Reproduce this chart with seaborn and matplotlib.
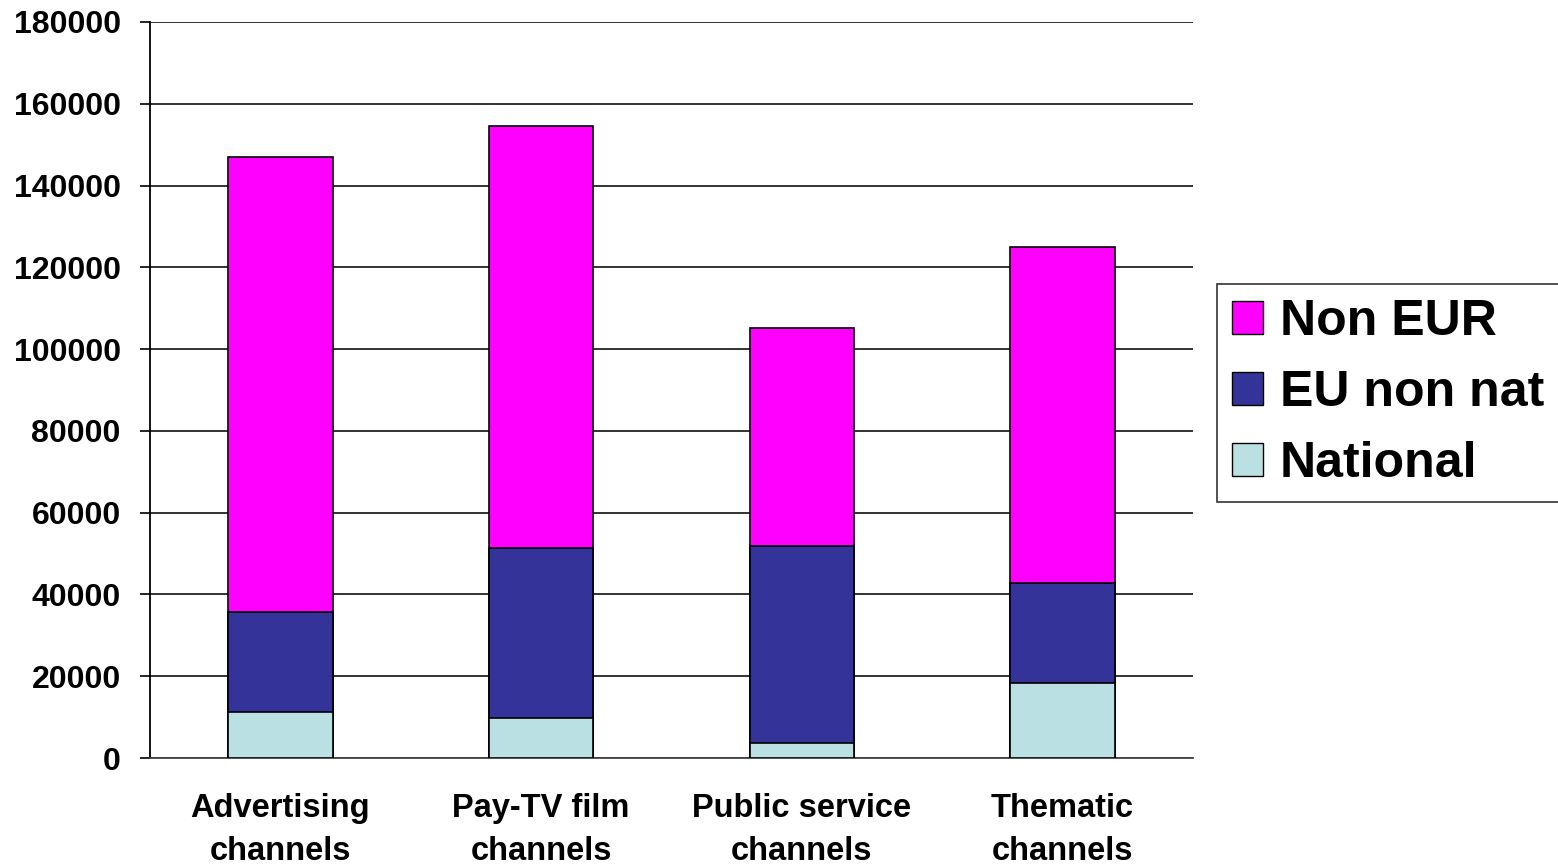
import matplotlib
matplotlib.use("Agg")
import matplotlib.pyplot as plt
import seaborn as sns
import pandas as pd
import numpy as np
from matplotlib.patches import Patch

# Programme hours by origin and channel type
categories = ["Advertising\nchannels", "Pay-TV film\nchannels",
              "Public service\nchannels", "Thematic\nchannels"]
national = [11200, 9800, 3600, 18300]
eu_non_nat = [24400, 41600, 48300, 24500]
non_eur = [111300, 103100, 53300, 82200]

series_names = ["Non EUR", "EU non nat", "National"]
series_colors = {"Non EUR": "#FF00FF", "EU non nat": "#333399", "National": "#BBE0E3"}
y_ticks = [0, 20000, 40000, 60000, 80000, 100000, 120000, 140000, 160000, 180000]

df = pd.DataFrame({"category": categories, "National": national,
                   "EU non nat": eu_non_nat, "Non EUR": non_eur})
# cumulative tops for stacking
df["top_national"] = df["National"]
df["top_eu"] = df["top_national"] + df["EU non nat"]
df["top_non_eur"] = df["top_eu"] + df["Non EUR"]

sns.set_theme(style="white")
plt.rcParams["font.family"] = ["Liberation Sans", "DejaVu Sans"]
plt.rcParams["text.color"] = "black"
plt.rcParams["xtick.color"] = "black"
plt.rcParams["ytick.color"] = "black"

fig = plt.figure(figsize=(15.58, 8.65), dpi=100)
ax = fig.add_axes([150 / 1558, 1 - 758 / 865, (1193 - 150) / 1558, (758 - 22) / 865])

for col, name in [("top_non_eur", "Non EUR"), ("top_eu", "EU non nat"),
                  ("top_national", "National")]:
    sns.barplot(data=df, x="category", y=col, color=series_colors[name],
                saturation=1, width=0.4, edgecolor="black", linewidth=1.2,
                ax=ax, zorder=3)

ax.set_ylim(0, 180000)
ax.set_xlim(-0.5, len(categories) - 0.5)
ax.set_yticks(y_ticks)
ax.set_yticklabels([str(v) for v in y_ticks], fontsize=23, fontweight="bold")
ax.yaxis.grid(True, color="#222222", linewidth=1.3, zorder=0)
ax.set_axisbelow(True)
ax.set_xlabel("")
ax.set_ylabel("")

ax.set_xticks(range(len(categories)))
ax.set_xticklabels(categories, fontsize=23.5, fontweight="bold", linespacing=1.5)
ax.set_xticks(np.arange(-0.5, len(categories), 1.0), minor=True)
ax.tick_params(axis="x", which="major", length=0, pad=25)
ax.tick_params(axis="x", which="minor", length=7, width=1.2, color="black", direction="out")
ax.tick_params(axis="y", which="major", length=7, width=1.2, color="black",
               direction="out", pad=14, left=True)

for side in ["top", "right"]:
    ax.spines[side].set_visible(False)
ax.spines["left"].set_color("black")
ax.spines["left"].set_linewidth(1.3)
ax.spines["bottom"].set_color("#444444")
ax.spines["bottom"].set_linewidth(1.3)

handles = [Patch(facecolor=series_colors[n], edgecolor="black", linewidth=1.0, label=n)
           for n in series_names]
leg = fig.legend(handles=handles, loc="center left",
                 bbox_to_anchor=(1217 / 1558, 1 - 393 / 865),
                 prop={"size": 36, "weight": "bold"}, frameon=True, fancybox=False,
                 edgecolor="black", handlelength=0.62, handleheight=0.62,
                 handletextpad=0.34, labelspacing=0.5, borderpad=0.3,
                 borderaxespad=0)
leg.get_frame().set_linewidth(1.2)

fig.savefig("out.png", dpi=100)
